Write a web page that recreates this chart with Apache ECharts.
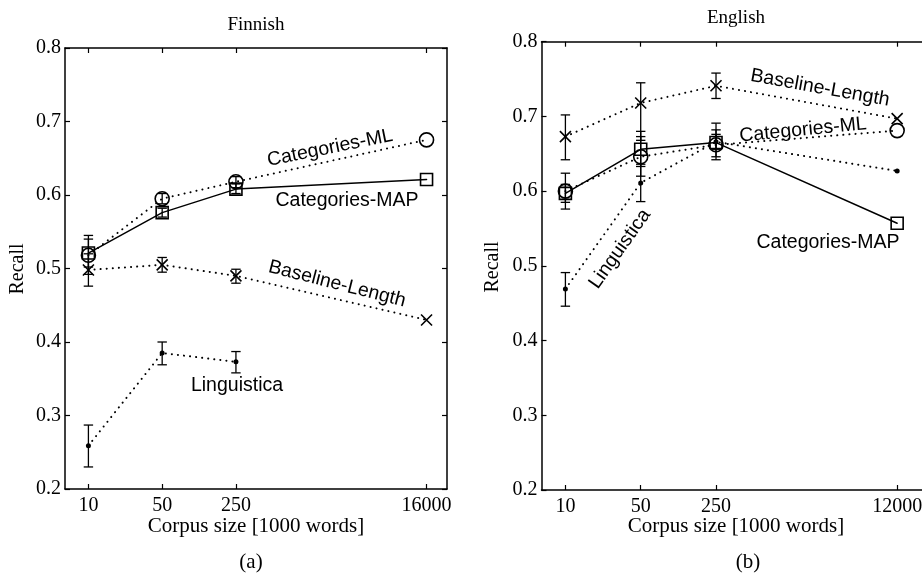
<!DOCTYPE html>
<html><head><meta charset="utf-8">
<script src="https://cdn.jsdelivr.net/npm/echarts@6/dist/echarts.min.js"></script>
<style>html,body{margin:0;padding:0;background:#fff}#c{width:922px;height:574px}</style>
</head><body><div id="c"></div>
<script>
// ---- data ----
const corpusFi = [10, 50, 250, 16000];
const corpusEn = [10, 50, 250, 12000];
const yTicks = [0.2, 0.3, 0.4, 0.5, 0.6, 0.7, 0.8];

// Finnish
const fiCatML   = [0.518, 0.595, 0.618, 0.675];
const fiCatMAP  = [0.521, 0.576, 0.608, 0.621];
const fiBase    = [0.498, 0.505, 0.490, 0.430];
const fiLing    = [0.259, 0.385, 0.373];
const fiCatMLErr  = [[0.492, 0.545], [0.588, 0.602], [0.610, 0.625]];
const fiCatMAPErr = [[0.502, 0.540], [0.570, 0.582], [0.602, 0.615]];
const fiBaseErr   = [[0.476, 0.520], [0.495, 0.515], [0.480, 0.499]];
const fiLingErr   = [[0.230, 0.287], [0.369, 0.400], [0.358, 0.387]];

// English
const enCatML   = [0.600, 0.646, 0.662, 0.681];
const enCatMAP  = [0.597, 0.656, 0.665, 0.557];
const enBase    = [0.673, 0.718, 0.741, 0.697];
const enLing    = [0.469, 0.611, 0.666, 0.627];
const enCatMLErr  = [[0.576, 0.624], [0.620, 0.673], [0.642, 0.682]];
const enCatMAPErr = [[0.585, 0.609], [0.633, 0.680], [0.646, 0.691]];
const enBaseErr   = [[0.642, 0.702], [0.668, 0.745], [0.724, 0.758]];
const enLingErr   = [[0.446, 0.491], [0.586, 0.636], [0.656, 0.676]];

// ---- chart ----
const chart = echarts.init(document.getElementById('c'), null, {renderer: 'canvas'});
const SERIF = 'Liberation Serif, Times New Roman, serif';
const SANS = 'Liberation Sans, Arial, Helvetica, sans-serif';
const BLACK = '#000';
const X_MIN = 6, X_MAX = 25000;

function xAxes(gi, ticks) {
  const base = {
    gridIndex: gi, type: 'log', logBase: 10, min: X_MIN, max: X_MAX,
    splitLine: {show: false}, minorTick: {show: false},
    axisLine: {show: true, onZero: false, lineStyle: {color: BLACK, width: 1.5}}
  };
  return [
    Object.assign({}, base, {
      position: 'bottom',
      axisTick: {show: true, inside: true, length: 5, customValues: ticks, lineStyle: {color: BLACK, width: 1.2}},
      axisLabel: {show: true, customValues: ticks, margin: 7, color: BLACK, fontFamily: SERIF, fontSize: 20,
        hideOverlap: false, formatter: v => String(Math.round(v))}
    }),
    Object.assign({}, base, {
      position: 'top',
      axisTick: {show: true, inside: true, length: 5, customValues: ticks, lineStyle: {color: BLACK, width: 1.2}},
      axisLabel: {show: false}
    })
  ];
}
function yAxes(gi) {
  const base = {
    gridIndex: gi, type: 'value', min: yTicks[0], max: yTicks[yTicks.length - 1], interval: 0.1,
    splitLine: {show: false},
    axisLine: {show: true, onZero: false, lineStyle: {color: BLACK, width: 1.5}},
    axisTick: {show: true, inside: true, length: 5, lineStyle: {color: BLACK, width: 1.2}}
  };
  return [
    Object.assign({}, base, {position: 'left',
      axisLabel: {show: true, margin: 4, color: BLACK, fontFamily: SERIF, fontSize: 20, formatter: v => v.toFixed(1)}}),
    Object.assign({}, base, {position: 'right', axisLabel: {show: false}})
  ];
}

const xSym = 'path://M0,0L10,10M10,0L0,10';

function lineSeries(xi, yi, xs, ys, kind) {
  const data = ys.map((v, i) => [xs[i], v]);
  const dotted = kind !== 'square';
  const s = {
    type: 'line', xAxisIndex: xi, yAxisIndex: yi, data: data, z: 3,
    lineStyle: {color: BLACK, width: dotted ? 2 : 1.5, type: dotted ? [0.1, 6] : 'solid', cap: 'round'},
    animation: false, silent: true
  };
  if (kind === 'circle') {
    s.symbol = 'circle'; s.symbolSize = 14;
    s.itemStyle = {color: 'rgba(0,0,0,0)', borderColor: BLACK, borderWidth: 1.6};
  } else if (kind === 'square') {
    s.symbol = 'rect'; s.symbolSize = 12;
    s.itemStyle = {color: 'rgba(0,0,0,0)', borderColor: BLACK, borderWidth: 1.6};
  } else if (kind === 'x') {
    s.symbol = xSym; s.symbolSize = 11;
    s.itemStyle = {color: 'rgba(0,0,0,0)', borderColor: BLACK, borderWidth: 1.6};
  } else {
    s.symbol = 'circle'; s.symbolSize = 5;
    s.itemStyle = {color: BLACK, borderWidth: 0};
  }
  return s;
}

function errSeries(xi, yi, xs, errs) {
  const data = errs.map((e, i) => [xs[i], e[0], e[1]]);
  return {
    type: 'custom', xAxisIndex: xi, yAxisIndex: yi, data: data, z: 2, silent: true, animation: false,
    encode: {x: 0, y: [1, 2]},
    renderItem: function (params, api) {
      const p1 = api.coord([api.value(0), api.value(1)]);
      const p2 = api.coord([api.value(0), api.value(2)]);
      const w = 4.7;
      const st = {stroke: BLACK, lineWidth: 1.3, fill: null};
      return {type: 'group', children: [
        {type: 'line', shape: {x1: p1[0], y1: p1[1], x2: p2[0], y2: p2[1]}, style: st},
        {type: 'line', shape: {x1: p1[0] - w, y1: p1[1], x2: p1[0] + w, y2: p1[1]}, style: st},
        {type: 'line', shape: {x1: p2[0] - w, y1: p2[1], x2: p2[0] + w, y2: p2[1]}, style: st}
      ]};
    }
  };
}

function txt(x, y, text, opt) {
  opt = opt || {};
  return {
    type: 'text', x: x, y: y, rotation: opt.rot || 0, z: 10,
    style: {text: text, fill: BLACK, font: (opt.size || 19.5) + 'px ' + (opt.font || SANS),
      textAlign: 'center', textVerticalAlign: 'middle'}
  };
}

const option = {
  backgroundColor: '#fff',
  animation: false,
  grid: [
    {left: 65, top: 48, width: 382, height: 441, outerBoundsMode: 'none', containLabel: false},
    {left: 541.5, top: 41.7, width: 390, height: 448.3, outerBoundsMode: 'none', containLabel: false}
  ],
  xAxis: xAxes(0, corpusFi).concat(xAxes(1, corpusEn)),
  yAxis: yAxes(0).concat(yAxes(1)),
  series: [
    errSeries(0, 0, corpusFi, fiCatMLErr),
    errSeries(0, 0, corpusFi, fiCatMAPErr),
    errSeries(0, 0, corpusFi, fiBaseErr),
    errSeries(0, 0, corpusFi, fiLingErr),
    lineSeries(0, 0, corpusFi, fiCatML, 'circle'),
    lineSeries(0, 0, corpusFi, fiCatMAP, 'square'),
    lineSeries(0, 0, corpusFi, fiBase, 'x'),
    lineSeries(0, 0, corpusFi, fiLing, 'dot'),
    errSeries(2, 2, corpusEn, enCatMLErr),
    errSeries(2, 2, corpusEn, enCatMAPErr),
    errSeries(2, 2, corpusEn, enBaseErr),
    errSeries(2, 2, corpusEn, enLingErr),
    lineSeries(2, 2, corpusEn, enCatML, 'circle'),
    lineSeries(2, 2, corpusEn, enCatMAP, 'square'),
    lineSeries(2, 2, corpusEn, enBase, 'x'),
    lineSeries(2, 2, corpusEn, enLing, 'dot')
  ],
  graphic: [
    txt(256, 25, 'Finnish', {font: SERIF, size: 19}),
    txt(736, 18, 'English', {font: SERIF, size: 19}),
    txt(18, 269, 'Recall', {font: SERIF, size: 20, rot: Math.PI / 2}),
    txt(493, 267, 'Recall', {font: SERIF, size: 20, rot: Math.PI / 2}),
    txt(256, 526, 'Corpus size [1000 words]', {font: SERIF, size: 21}),
    txt(736, 526, 'Corpus size [1000 words]', {font: SERIF, size: 21}),
    txt(251, 562, '(a)', {font: SERIF, size: 21}),
    txt(748, 562, '(b)', {font: SERIF, size: 21}),
    // panel a annotations
    txt(330, 148, 'Categories-ML', {rot: 0.2}),
    txt(347, 201, 'Categories-MAP'),
    txt(337, 284, 'Baseline-Length', {rot: -0.25}),
    txt(237, 386, 'Linguistica'),
    // panel b annotations
    txt(820, 88, 'Baseline-Length', {rot: -0.178}),
    txt(803, 130, 'Categories-ML', {rot: 0.097}),
    txt(828, 243, 'Categories-MAP'),
    txt(620, 249, 'Linguistica', {rot: 0.956})
  ]
};
chart.setOption(option);
</script>
</body></html>
